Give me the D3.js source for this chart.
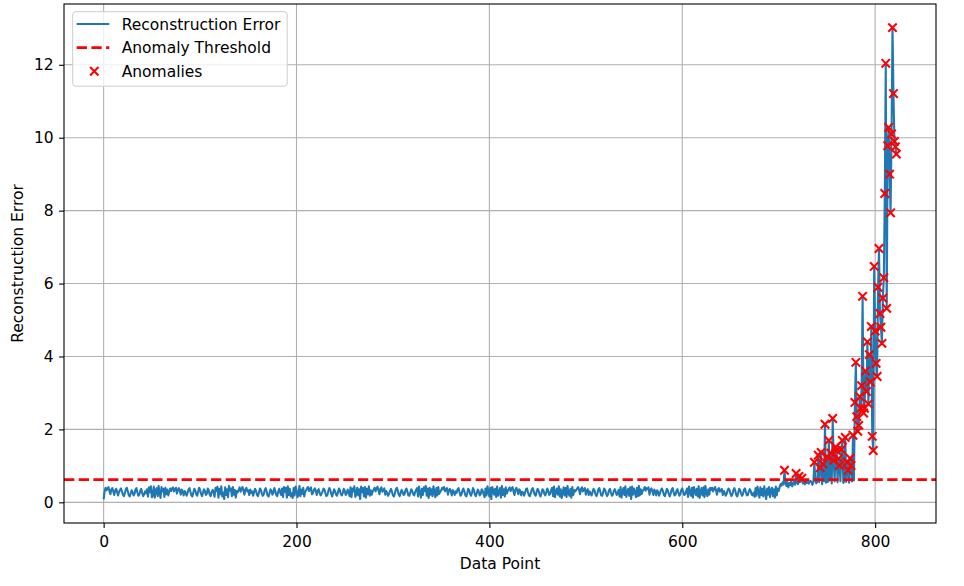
<!DOCTYPE html>
<html>
<head>
<meta charset="utf-8">
<script src="https://cdn.jsdelivr.net/npm/d3@7"></script>
<style>
  body { margin: 0; background: #fff; }
  svg { display: block; }
  text { font-family: "DejaVu Sans", sans-serif; }
</style>
</head>
<body>
<svg width="964" height="586"></svg>
<script>
// reconstruction error, points 0..699 (normal behaviour)
var errBaseline = [
  0.08,0.30,0.40,0.33,0.38,0.42,0.31,0.22,0.35,0.39,0.30,0.20,0.33,0.37,0.28,0.19,0.29,
  0.34,0.38,0.30,0.21,0.17,0.25,0.36,0.40,0.31,0.20,0.16,0.24,0.33,0.28,0.19,0.23,0.35,0.39,0.27,0.18,0.21,0.32,0.37,0.26,0.17,0.22,0.30,0.25,
  0.36,0.16,0.41,0.28,0.44,0.14,0.20,0.43,0.13,0.33,0.39,0.17,0.45,0.24,0.12,0.42,0.30,0.37,0.15,0.40,0.22,0.35,0.19,0.29,0.38,
  0.31,0.38,0.41,0.30,0.36,0.40,0.24,0.34,0.39,0.32,0.21,0.35,0.30,0.19,0.31,0.27,0.18,
  0.26,0.35,0.39,0.29,0.19,0.16,0.27,0.37,0.33,0.22,0.18,0.29,0.40,0.34,0.23,0.17,0.26,0.36,0.31,0.20,0.24,0.38,0.33,0.21,0.17,0.28,0.34,0.27,
  0.15,0.40,0.31,0.43,0.13,0.37,0.22,0.44,0.16,0.27,0.09,0.41,0.20,0.36,0.14,0.45,0.32,0.38,0.17,0.42,0.21,0.34,0.13,0.31,0.27,
  0.34,0.41,0.29,0.37,0.42,0.32,0.21,0.36,0.40,0.30,0.33,0.20,0.35,0.26,0.30,0.18,0.28,
  0.37,0.32,0.21,0.17,0.26,0.38,0.35,0.24,0.18,0.22,0.33,0.39,0.30,0.19,0.16,0.25,0.36,0.32,0.21,0.27,0.39,0.31,0.20,0.17,0.29,0.37,0.28,0.20,
  0.38,0.15,0.42,0.29,0.40,0.13,0.44,0.20,0.37,0.16,0.25,0.12,0.39,0.19,0.43,0.34,0.14,0.21,0.45,0.17,0.35,0.23,0.40,0.16,0.28,
  0.33,0.39,0.42,0.31,0.36,0.41,0.22,0.25,0.34,0.38,0.31,0.20,0.32,0.36,0.26,0.19,0.24,
  0.30,0.38,0.35,0.24,0.17,0.20,0.31,0.39,0.34,0.23,0.16,0.27,0.36,0.30,0.21,0.18,0.28,0.38,0.33,0.22,0.19,0.26,0.37,0.32,0.20,0.24,0.35,0.29,
  0.17,0.41,0.14,0.38,0.30,0.44,0.15,0.23,0.40,0.19,0.36,0.09,0.43,0.28,0.39,0.16,0.42,0.13,0.37,0.22,0.44,0.18,0.33,0.21,0.30,
  0.35,0.40,0.30,0.38,0.43,0.33,0.22,0.37,0.41,0.29,0.34,0.38,0.21,0.31,0.25,0.18,0.24,
  0.31,0.37,0.29,0.19,0.16,0.24,0.35,0.40,0.32,0.21,0.17,0.26,0.34,0.29,0.20,0.22,0.33,0.38,0.30,0.19,0.18,0.27,0.36,0.31,0.22,0.19,0.28,0.34,
  0.39,0.16,0.43,0.26,0.13,0.37,0.20,0.41,0.31,0.45,0.18,0.38,0.12,0.40,0.21,0.36,0.17,0.44,0.27,0.14,0.39,0.19,0.42,0.23,0.29,
  0.32,0.40,0.36,0.42,0.30,0.35,0.39,0.21,0.33,0.37,0.30,0.19,0.34,0.29,0.20,0.30,0.26,
  0.36,0.39,0.28,0.18,0.21,0.32,0.38,0.30,0.20,0.16,0.25,0.37,0.34,0.23,0.18,0.27,0.39,0.33,0.21,0.17,0.26,0.35,0.30,0.19,0.23,0.36,0.32,0.22,
  0.14,0.38,0.19,0.44,0.29,0.16,0.40,0.09,0.42,0.33,0.21,0.37,0.15,0.43,0.18,0.26,0.39,0.13,0.45,0.20,0.36,0.16,0.41,0.24,0.31,
  0.36,0.41,0.31,0.38,0.42,0.30,0.20,0.35,0.40,0.32,0.22,0.36,0.31,0.19,0.29,0.27,0.18,
  0.27,0.36,0.38,0.28,0.19,0.17,0.26,0.35,0.39,0.30,0.21,0.18,0.29,0.37,0.32,0.22,0.16,0.25,0.36,0.33,0.23,0.19,0.28,0.38,0.31,0.20,0.24,0.33,
  0.40,0.17,0.43,0.14,0.30,0.38,0.21,0.44,0.16,0.36,0.12,0.27,0.41,0.19,0.39,0.15,0.45,0.25,0.18,0.37,0.13,0.42,0.20,0.34,0.30,
  0.33,0.38,0.42,0.34,0.22,0.37,0.41,0.30,0.35,0.39,0.21,0.32,0.36,0.20,0.30,0.24,0.19,
  0.29,0.37,0.33,0.22,0.17,0.24,0.36,0.39,0.29,0.19,0.18,0.28,0.38,0.34,0.24,0.17,0.22,0.33,0.37,0.27,0.18,0.21,0.31,0.36,0.29,0.20,0.25,0.34,
  0.16,0.42,0.13,0.31,0.39,0.20,0.44,0.15,0.28,0.37,0.18,0.41,0.09,0.43,0.21,0.38,0.26,0.14,0.40,0.17,0.45,0.19,0.36,0.23,0.32,
  0.35,0.42,0.32,0.39,0.36,0.41,0.21,0.34,0.38,0.31,0.20,0.35,0.30,0.19,0.33,0.28,0.18,
  0.26,0.35,0.38,0.30,0.20,0.17,0.27,0.37,0.33,0.23,0.16,0.24,0.35,0.39,0.28,0.19,0.21,0.32,0.36,0.26,0.18,0.23,0.34,0.38,0.29,0.20,0.22,0.31,
  0.38,0.15,0.43,0.27,0.18,0.40,0.13,0.42,0.32,0.20,0.37,0.16,0.44,0.12,0.29,0.39,0.19,0.41,0.14,0.45,0.24,0.17,0.36,0.21,0.40,
  0.34,0.40,0.30,0.37,0.42,0.33,0.21,0.36,0.39,0.29,0.33,0.37,0.20,0.31,0.26,0.18,0.23,
  0.32,0.38,0.34,0.23,0.17,0.22,0.33,0.39,0.31,0.20,0.16,0.26,0.37,0.34,0.24,0.18,0.23,0.35,0.38,0.28,0.19,0.20,0.30,0.36,0.31,0.21,0.19,0.27,
  0.15,0.39,0.18,0.43,0.30,0.13,0.41,0.20,0.37,0.16,0.44,0.26,0.09,0.38,0.21,0.42,0.14,0.33,0.40,0.17,0.36,0.13,0.43,0.19,0.38
];

// points 700..822, where the error takes off
var errSpike = [
  0.31,0.42,0.50,0.46,0.55,0.49,0.88,0.52,0.45,0.56,
  0.41,0.53,0.47,0.58,0.44,0.51,0.57,0.48,0.79,0.54,
  0.50,0.71,0.55,0.59,0.66,0.52,0.57,0.49,0.58,0.53,
  0.60,0.51,0.57,0.59,0.55,0.48,0.58,1.10,0.59,0.52,
  0.57,1.29,0.55,0.95,1.37,0.50,1.05,0.58,2.14,0.54,
  1.25,0.56,1.70,0.60,1.35,0.52,2.30,1.15,0.57,1.52,
  1.42,0.55,1.20,1.01,0.58,1.45,1.70,0.53,0.59,1.78,
  0.56,1.10,0.88,0.54,1.21,1.01,0.57,1.84,0.60,2.74,
  3.84,2.35,1.95,2.11,2.90,2.58,3.20,5.65,2.45,2.58,
  3.60,3.04,4.40,2.70,4.05,3.30,4.82,1.81,1.42,6.47,
  4.70,3.81,3.45,5.90,6.96,5.18,4.80,4.36,5.60,6.16,
  8.47,12.04,5.32,9.78,10.28,9.00,7.94,10.10,13.02,11.21,
  9.90,9.75,9.55
];

var threshold = 0.62;
var xTicks = [0, 200, 400, 600, 800];
var yTicks = [0, 2, 4, 6, 8, 10, 12];
var legendLabels = ["Reconstruction Error", "Anomaly Threshold", "Anomalies"];

var svg = d3.select("svg"),
  plotLeft = 64, plotRight = 936, plotTop = 4, plotBottom = 523,
  fs = 15.5;

var errors = errBaseline.concat(errSpike);
var points = errors.map(function(v, i) { return {x: i, y: v}; });
var anomalies = points.filter(function(d) { return d.y > threshold; });

// matplotlib style 5% margins
var n = errors.length - 1;
var ymin = d3.min(errors), ymax = d3.max(errors), pad = 0.05 * (ymax - ymin);

var x = d3.scaleLinear().domain([-0.05 * n, n * 1.05]).range([plotLeft, plotRight]);
var y = d3.scaleLinear().domain([ymin - pad, ymax + pad]).range([plotBottom, plotTop]);

// grid
var grid = svg.append("g").attr("stroke", "#b0b0b0").attr("stroke-width", 1.1);
grid.selectAll(".gx").data(xTicks).enter().append("line")
  .attr("x1", function(d) { return x(d); }).attr("x2", function(d) { return x(d); })
  .attr("y1", plotTop).attr("y2", plotBottom);
grid.selectAll(".gy").data(yTicks).enter().append("line")
  .attr("y1", function(d) { return y(d); }).attr("y2", function(d) { return y(d); })
  .attr("x1", plotLeft).attr("x2", plotRight);

// error line
var line = d3.line()
  .x(function(d) { return x(d.x); })
  .y(function(d) { return y(d.y); });

svg.append("path")
  .datum(points)
  .attr("d", line)
  .attr("fill", "none")
  .attr("stroke", "#1f77b4")
  .attr("stroke-width", 2.08)
  .attr("stroke-linejoin", "round");

// threshold
svg.append("line")
  .attr("x1", plotLeft).attr("x2", plotRight)
  .attr("y1", y(threshold)).attr("y2", y(threshold))
  .attr("stroke", "red")
  .attr("stroke-width", 2.78)
  .attr("stroke-dasharray", "10.3,4.4");

// anomaly markers
var cross = "M-4.2,-4.2L4.2,4.2M-4.2,4.2L4.2,-4.2";
svg.append("g").selectAll("path")
  .data(anomalies)
  .enter().append("path")
  .attr("transform", function(d) { return "translate(" + x(d.x) + "," + y(d.y) + ")"; })
  .attr("d", cross)
  .attr("fill", "none")
  .attr("stroke", "red")
  .attr("stroke-width", 2.08);

// axes
var xAxis = svg.append("g")
  .attr("transform", "translate(0," + plotBottom + ")")
  .call(d3.axisBottom(x).tickValues(xTicks).tickSize(4.9).tickPadding(8.5).tickSizeOuter(0));
var yAxis = svg.append("g")
  .attr("transform", "translate(" + plotLeft + ",0)")
  .call(d3.axisLeft(y).tickValues(yTicks).tickSize(4.9).tickPadding(5.5).tickSizeOuter(0));

[xAxis, yAxis].forEach(function(a) {
  a.select(".domain").remove();
  a.selectAll("line").attr("stroke", "#000").attr("stroke-width", 1.1);
  a.selectAll("text").attr("fill", "#000").style("font-size", fs + "px").style("font-family", "DejaVu Sans, sans-serif");
});

// frame
svg.append("rect")
  .attr("x", plotLeft).attr("y", plotTop)
  .attr("width", plotRight - plotLeft).attr("height", plotBottom - plotTop)
  .attr("fill", "none").attr("stroke", "#000").attr("stroke-width", 1.1);

svg.append("text")
  .attr("x", (plotLeft + plotRight) / 2).attr("y", 569)
  .attr("text-anchor", "middle")
  .style("font-size", fs + "px")
  .text("Data Point");

svg.append("text")
  .attr("transform", "translate(23," + (plotTop + plotBottom) / 2 + ") rotate(-90)")
  .attr("text-anchor", "middle")
  .style("font-size", fs + "px")
  .text("Reconstruction Error");

// legend
var lg = svg.append("g");
lg.append("rect")
  .attr("x", 72.7).attr("y", 11.7)
  .attr("width", 214.5).attr("height", 74.5)
  .attr("rx", 3)
  .attr("fill", "#fff").attr("fill-opacity", 0.8)
  .attr("stroke", "#ccc").attr("stroke-width", 1);

var rowY = [24, 47.7, 71.3];
lg.append("line")
  .attr("x1", 76.7).attr("x2", 109.3).attr("y1", rowY[0]).attr("y2", rowY[0])
  .attr("stroke", "#1f77b4").attr("stroke-width", 2.08);
lg.append("line")
  .attr("x1", 76.7).attr("x2", 109.3).attr("y1", rowY[1]).attr("y2", rowY[1])
  .attr("stroke", "red").attr("stroke-width", 2.78).attr("stroke-dasharray", "10.3,4.4");
lg.append("path")
  .attr("transform", "translate(94.3," + rowY[2] + ")")
  .attr("d", cross)
  .attr("fill", "none").attr("stroke", "red").attr("stroke-width", 2.08);

lg.selectAll("text")
  .data(legendLabels)
  .enter().append("text")
  .attr("x", 121.7)
  .attr("y", function(d, i) { return rowY[i]; })
  .attr("dy", "0.36em")
  .style("font-size", fs + "px")
  .text(function(d) { return d; });
</script>
</body>
</html>
